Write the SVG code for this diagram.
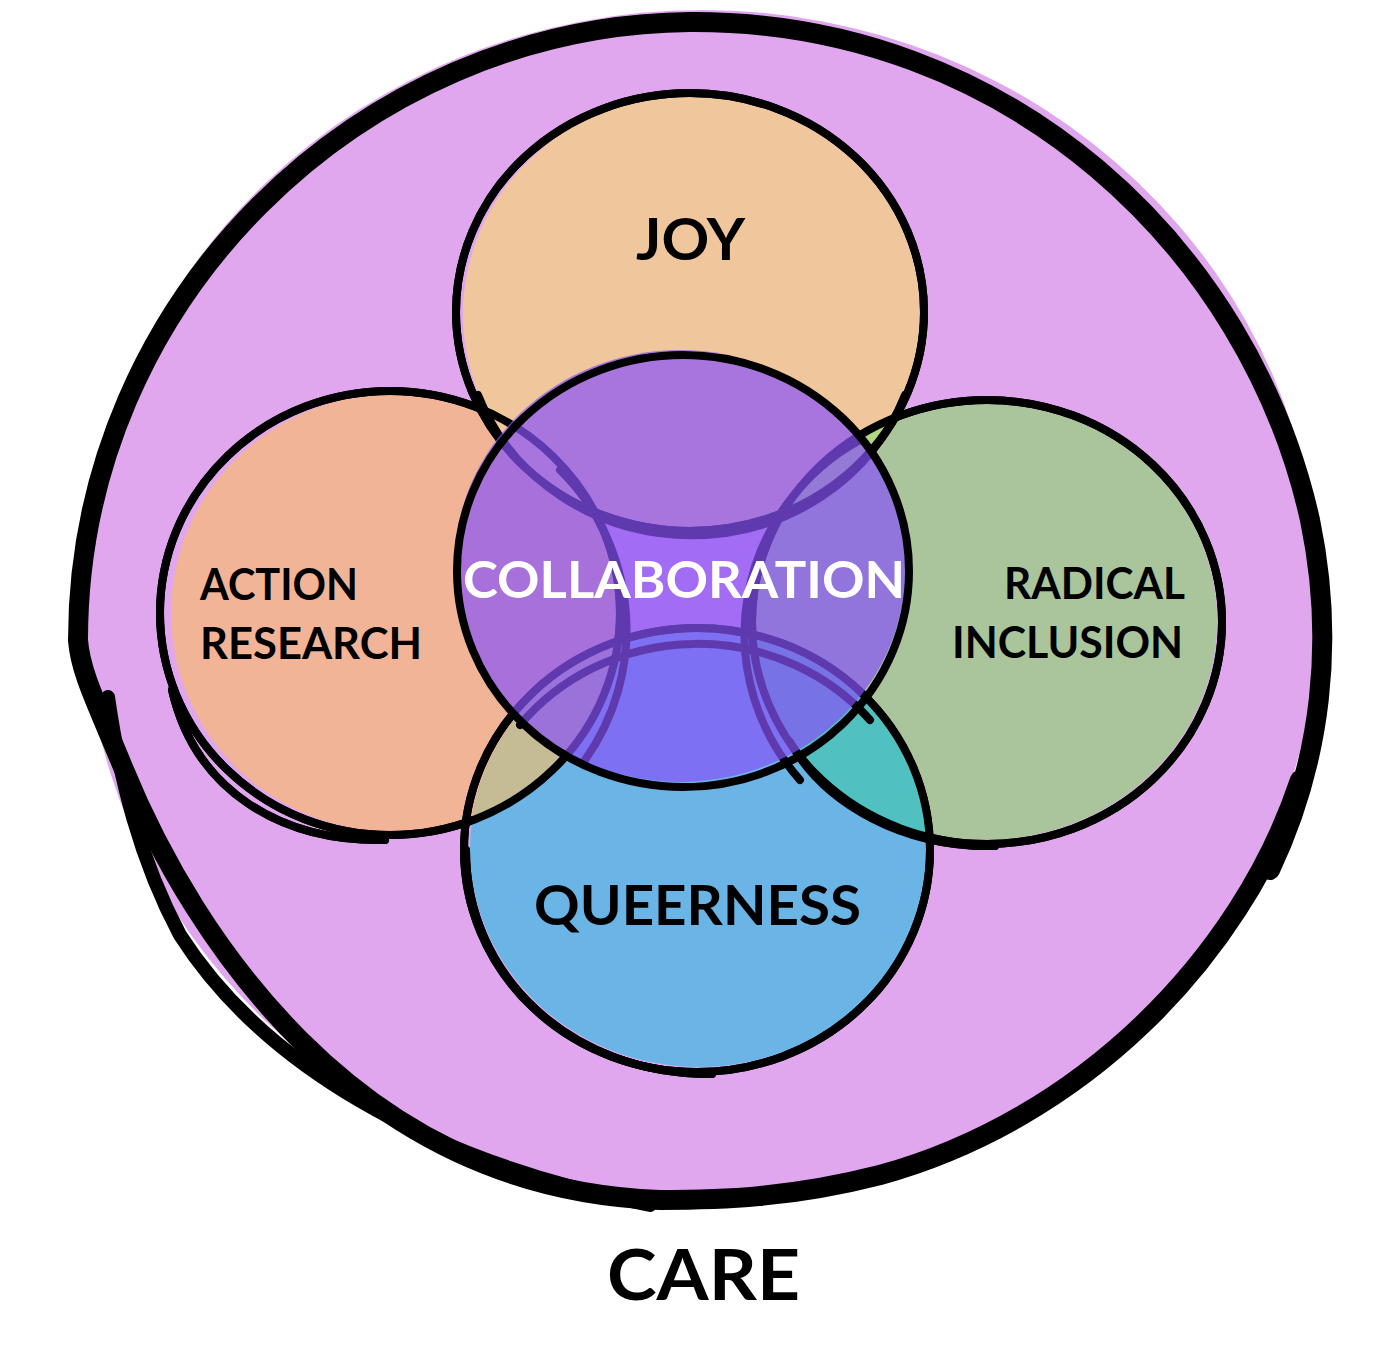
<svg xmlns="http://www.w3.org/2000/svg" width="1397" height="1349" viewBox="0 0 1397 1349">
<style>
  .ln{fill:none;stroke:#000;stroke-linecap:round;stroke-linejoin:round}
  .thin{stroke-width:8}
  .thick{stroke-width:20}
  .lbl{font-family:Lato,"Open Sans","Liberation Sans",sans-serif;font-weight:700;fill:#000}
</style>
<defs>
  <ellipse id="f-joy" cx="692" cy="314" rx="229" ry="219"/>
  <ellipse id="f-act" cx="395" cy="613" rx="224" ry="219"/>
  <ellipse id="f-rad" cx="985" cy="621" rx="232" ry="219"/>
  <ellipse id="f-que" cx="699" cy="849" rx="229" ry="218"/>
  <clipPath id="c-act"><use href="#f-act"/></clipPath>
  <clipPath id="c-rad"><use href="#f-rad"/></clipPath>
  <ellipse id="s-joy" cx="690" cy="312" rx="234" ry="219"/>
  <ellipse id="s-act" cx="390" cy="613" rx="230" ry="222"/>
  <ellipse id="s-rad" cx="987" cy="622" rx="235" ry="222"/>
  <ellipse id="s-que" cx="697" cy="850" rx="233" ry="222"/>
  <path id="x-act-r" d="M 560 470 A 218 222 0 0 1 585 760"/>
  <path id="x-act-b" d="M 172 690 C 195 790 280 842 385 840"/>
  <path id="x-rad-l" d="M 860 440 A 225 222 0 0 0 800 780"/>
  <path id="x-rad-b" d="M 790 742 C 825 805 905 848 995 846"/>
  <path id="x-joy-b" d="M 905 395 A 228 216 0 0 1 478 395"/>
  <path id="x-que-t" d="M 520 725 A 226 214 0 0 1 870 720"/>
  <path id="x-que-b" d="M 466 850 C 466 975 570 1075 712 1074"/>
</defs>

<g id="care">
  <ellipse cx="702" cy="602" rx="618" ry="592" fill="#E1A7EE"/>
  <path class="ln thick" d="M 78 640 C 78 300 360 25 690 22 C 1010 20 1250 250 1310 520 C 1335 640 1322 760 1270 870 M 1300 780 C 1240 960 1080 1120 880 1175 C 790 1198 720 1200 660 1200 C 520 1195 400 1140 300 1040 C 220 960 160 860 120 760 C 95 700 80 670 78 640"/>
  <path class="ln" stroke-width="14" d="M 108 697 C 120 780 140 860 180 935 C 260 1060 420 1160 650 1205"/>
  <text class="lbl" x="607" y="1300" font-size="71" textLength="193" lengthAdjust="spacingAndGlyphs">CARE</text>
</g>

<g id="action-research">
  <use href="#f-act" fill="#F2B496"/>
  <use href="#s-act" class="ln thin"/>
  <use href="#x-act-b" class="ln thin"/>
  <text class="lbl" x="200" y="600" font-size="44" textLength="158" lengthAdjust="spacingAndGlyphs">ACTION</text>
  <text class="lbl" x="200" y="659" font-size="44" textLength="222" lengthAdjust="spacingAndGlyphs">RESEARCH</text>
</g>

<g id="radical-inclusion">
  <use href="#f-rad" fill="#AAC59C"/>
  <use href="#s-rad" class="ln thin"/>
  <use href="#x-rad-b" class="ln thin"/>
  <text class="lbl" x="1004" y="599" font-size="44" textLength="181" lengthAdjust="spacingAndGlyphs">RADICAL</text>
  <text class="lbl" x="952" y="658" font-size="44" textLength="231" lengthAdjust="spacingAndGlyphs">INCLUSION</text>
</g>

<g id="joy">
  <use href="#f-joy" fill="#F0C79D"/>
  <use href="#s-joy" class="ln thin"/>
  <text class="lbl" x="636" y="260" font-size="58" textLength="109" lengthAdjust="spacingAndGlyphs">JOY</text>
</g>

<g id="queerness">
  <use href="#f-que" fill="#6AB5E6"/>
  <use href="#s-que" class="ln thin"/>
  <use href="#x-que-b" class="ln thin"/>
  <text class="lbl" x="534" y="925" font-size="55" textLength="327" lengthAdjust="spacingAndGlyphs">QUEERNESS</text>
</g>

<g id="overlaps">
  <use href="#f-que" fill="#C5BC95" clip-path="url(#c-act)"/>
  <use href="#f-que" fill="#50C0C0" clip-path="url(#c-rad)"/>
  <use href="#f-joy" fill="#B2D67F" clip-path="url(#c-rad)"/>
  <use href="#s-act" class="ln thin"/>
  <use href="#s-rad" class="ln thin"/>
  <use href="#s-joy" class="ln thin"/>
  <use href="#s-que" class="ln thin"/>
  <use href="#x-act-r" class="ln thin"/>
  <use href="#x-act-b" class="ln thin"/>
  <use href="#x-rad-l" class="ln thin"/>
  <use href="#x-rad-b" class="ln thin"/>
  <use href="#x-joy-b" class="ln thin"/>
  <use href="#x-que-t" class="ln thin"/>
  <use href="#x-que-b" class="ln thin"/>
</g>

<g id="collaboration">
  <ellipse cx="680" cy="566" rx="226" ry="216" fill="#8852F8" fill-opacity="0.7"/>
  <ellipse cx="683" cy="571" rx="226" ry="216" class="ln thin"/>
  <text x="463" y="598" font-family="Lato,'Open Sans','Liberation Sans',sans-serif" font-weight="700" font-size="52" fill="#FFFFFF" textLength="442" lengthAdjust="spacingAndGlyphs">COLLABORATION</text>
</g>
</svg>
